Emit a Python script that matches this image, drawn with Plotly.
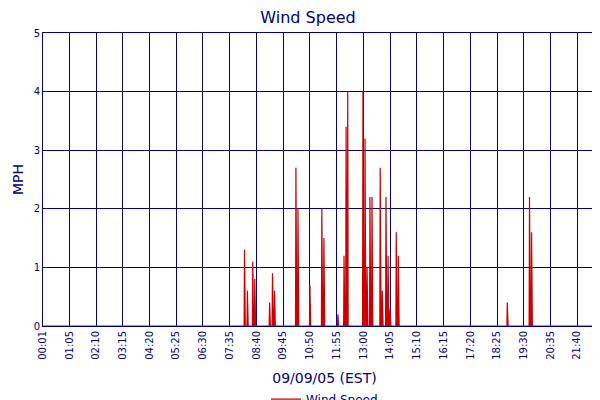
import plotly.graph_objects as go

# nonzero wind readings (time of day, mph); everything else is calm
spike_times = ["08:11", "08:18", "08:31", "08:36", "09:12", "09:19", "09:24",
               "10:16", "10:21", "10:50", "11:19", "11:24", "11:58",
               "12:13", "12:18", "12:22", "12:59", "13:04", "13:09", "13:16", "13:21",
               "13:41", "13:46", "13:55", "14:00", "14:05", "14:20", "14:25",
               "18:50", "19:44", "19:49"]
spike_values = [1.3, 0.6, 1.1, 0.8, 0.4, 0.9, 0.6,
                2.7, 2.0, 0.7, 2.0, 1.5, 0.2,
                1.2, 3.4, 4.0, 4.0, 3.2, 1.0, 2.2, 2.2,
                2.7, 0.6, 2.2, 1.2, 0.3, 1.6, 1.2,
                0.4, 2.2, 1.6]

tick_labels = ["00:01", "01:05", "02:10", "03:15", "04:20", "05:25", "06:30", "07:35",
               "08:40", "09:45", "10:50", "11:55", "13:00", "14:05", "15:10", "16:15",
               "17:20", "18:25", "19:30", "20:35", "21:40", "22:45", "22:50"]

start, end = "00:01", "22:50"


def to_min(s):
    h, m = s.split(":")
    return int(h) * 60 + int(m)


readings = {to_min(t): v for t, v in zip(spike_times, spike_values)}
x = list(range(to_min(start), to_min(end) + 1))
y = [readings.get(m, 0) for m in x]

navy = "#000080"
fig = go.Figure(go.Scatter(x=x, y=y, mode="lines", name="Wind Speed",
                           line=dict(color="#cc0000", width=1.2)))

fig.update_layout(
    width=600, height=400,
    margin=dict(l=35, r=2, t=25, b=82, autoexpand=False),
    paper_bgcolor="white", plot_bgcolor="white",
    font=dict(family="DejaVu Sans", color=navy),
    title=dict(text="Wind Speed", x=0.5, xanchor="center", y=0.99, yanchor="top",
               font=dict(size=16, color=navy), automargin=False),
    showlegend=True,
    legend=dict(orientation="h", x=0.5, xanchor="center", y=-0.2, yanchor="top",
                font=dict(size=12, color=navy)),
)
fig.update_xaxes(
    range=[to_min(start), to_min(end)], automargin=False,
    tickvals=[to_min(t) for t in tick_labels], ticktext=tick_labels,
    tickangle=-90, tickfont=dict(size=10, color=navy),
    title=dict(text="09/09/05 (EST)", font=dict(size=14, color=navy), standoff=14),
    showgrid=True, gridcolor=navy, gridwidth=1,
    showline=True, linecolor=navy, mirror=True, zeroline=False,
)
fig.update_yaxes(
    range=[0, 5], dtick=1, automargin=False, tickfont=dict(size=10, color=navy),
    title=dict(text="MPH", font=dict(size=14, color=navy), standoff=6),
    showgrid=True, gridcolor=navy, gridwidth=1,
    showline=True, linecolor=navy, mirror=True, zeroline=False,
)

fig.write_html("out.html")
